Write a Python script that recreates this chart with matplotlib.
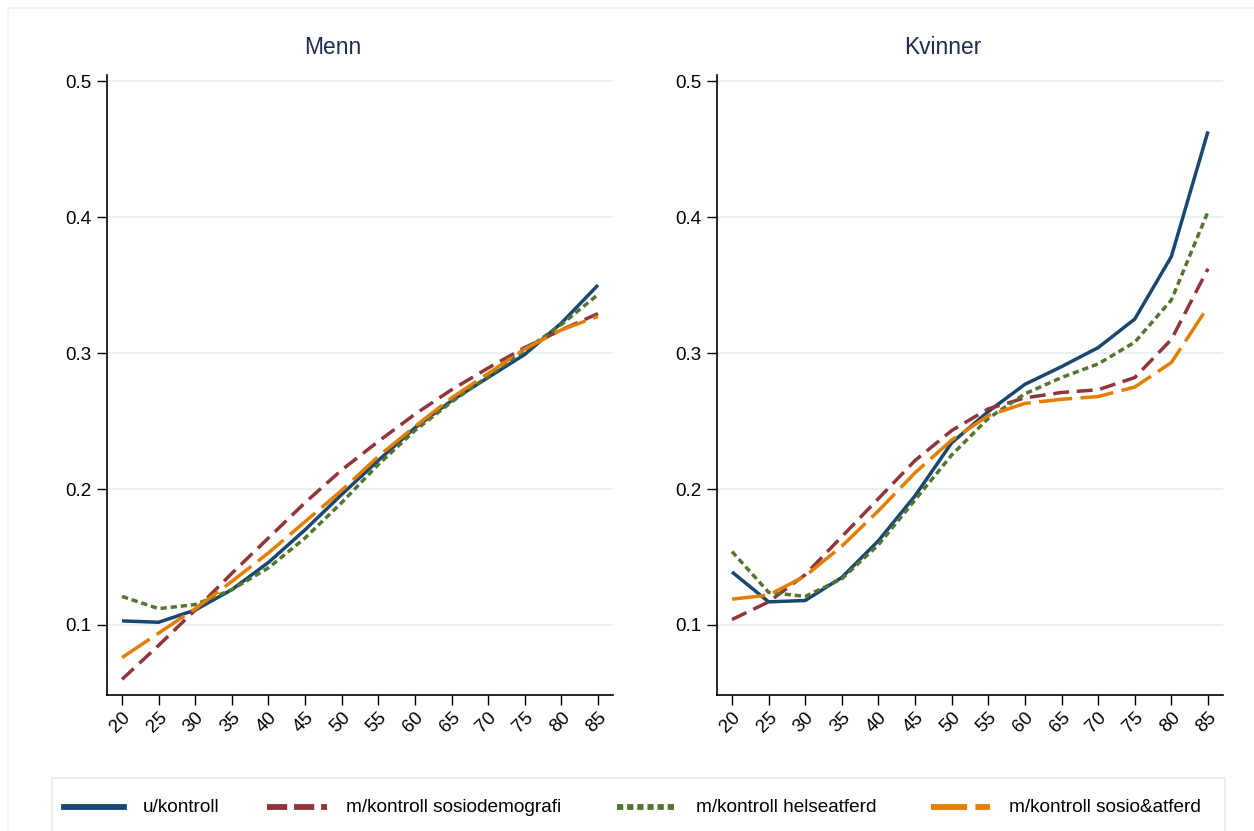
import matplotlib
matplotlib.use("Agg")
import matplotlib.pyplot as plt
from matplotlib.lines import Line2D
from matplotlib.patches import Rectangle

plt.rcParams['font.family'] = ['Liberation Sans', 'DejaVu Sans']
plt.rcParams['lines.scale_dashes'] = False

# alder (x-akse)
alder = [20, 25, 30, 35, 40, 45, 50, 55, 60, 65, 70, 75, 80, 85]

# Menn
menn_ukontroll = [0.103, 0.102, 0.111, 0.126, 0.146, 0.170, 0.196, 0.221, 0.245, 0.265, 0.282, 0.299, 0.322, 0.350]
menn_sosiodem = [0.060, 0.085, 0.111, 0.138, 0.164, 0.190, 0.214, 0.235, 0.255, 0.273, 0.289, 0.304, 0.317, 0.329]
menn_helse = [0.121, 0.112, 0.115, 0.126, 0.142, 0.164, 0.190, 0.218, 0.243, 0.264, 0.283, 0.302, 0.321, 0.343]
menn_sosioatf = [0.076, 0.094, 0.112, 0.132, 0.153, 0.176, 0.199, 0.224, 0.246, 0.267, 0.285, 0.303, 0.317, 0.327]

# Kvinner
kv_ukontroll = [0.139, 0.117, 0.118, 0.135, 0.162, 0.195, 0.234, 0.257, 0.277, 0.290, 0.304, 0.325, 0.371, 0.463]
kv_sosiodem = [0.104, 0.117, 0.137, 0.165, 0.193, 0.221, 0.243, 0.259, 0.267, 0.271, 0.273, 0.282, 0.310, 0.362]
kv_helse = [0.154, 0.124, 0.121, 0.134, 0.159, 0.192, 0.225, 0.252, 0.270, 0.282, 0.292, 0.308, 0.339, 0.404]
kv_sosioatf = [0.119, 0.122, 0.136, 0.158, 0.184, 0.212, 0.236, 0.254, 0.263, 0.266, 0.268, 0.275, 0.293, 0.334]

etiketter = ['u/kontroll', 'm/kontroll sosiodemografi', 'm/kontroll helseatferd', 'm/kontroll sosio&atferd']
yticks = [0.1, 0.2, 0.3, 0.4, 0.5]

farger = ['#1a476f', '#90353b', '#55752f', '#e37e00']
streker = [None, (0, (11.5, 5.5)), (0, (4.5, 2.8)), (0, (24, 6))]
streker_nokkel = [None, (0, (14.5, 5)), (0, (4.5, 2.8)), (0, (26, 6))]
lw = 2.5

W, H = 1254, 831
fig = plt.figure(figsize=(W / 100, H / 100), dpi=100)

# svak ramme rundt hele grafen
fig.add_artist(Rectangle((8 / W, -0.1), 1.2, (H - 8) / H + 0.1, transform=fig.transFigure,
                         facecolor='white', edgecolor='#eef2f4', lw=1.2, zorder=0))


def px(x0, y_top, w, h):
    return [x0 / W, 1 - (y_top + h) / H, w / W, h / H]


paneler = [
    ('Menn', px(107, 75, 506, 620), [menn_ukontroll, menn_sosiodem, menn_helse, menn_sosioatf], 333),
    ('Kvinner', px(717, 75, 506, 620), [kv_ukontroll, kv_sosiodem, kv_helse, kv_sosioatf], 943),
]

for tittel, pos, serier, tx in paneler:
    ax = fig.add_axes(pos)
    ax.set_facecolor('white')
    for y in yticks:
        ax.axhline(y, color='#eaf1f3', lw=1.5, zorder=1)
    for verdier, farge, strek in zip(serier, farger, streker):
        if strek is None:
            ax.plot(alder, verdier, color=farge, lw=lw, zorder=3, solid_capstyle='butt')
        else:
            ax.plot(alder, verdier, color=farge, lw=lw, linestyle=strek, zorder=3,
                    dash_capstyle='butt')
    ax.set_xlim(17.95, 87.05)
    ax.set_ylim(0.0485, 0.5045)
    ax.set_xticks(alder)
    ax.set_xticklabels([str(a) for a in alder], rotation=45, ha='right', va='top',
                       rotation_mode='anchor', fontsize=13.5)
    ax.set_yticks(yticks)
    ax.set_yticklabels(['0.1', '0.2', '0.3', '0.4', '0.5'], fontsize=13.5)
    ax.tick_params(axis='both', direction='out', length=7, width=1, color='black', pad=4)
    ax.tick_params(axis='x', pad=3)
    for s in ['top', 'right']:
        ax.spines[s].set_visible(False)
    for s in ['left', 'bottom']:
        ax.spines[s].set_linewidth(1.2)
    fig.text(tx / W, 1 - 47 / H, tittel, ha='center', va='center', fontsize=16.4, color='#1c2c52')

# forklaring
fig.add_artist(Rectangle((52 / W, -0.1), (1225 - 52) / W, (H - 778) / H + 0.1,
                         transform=fig.transFigure, facecolor='white', edgecolor='#e6edf0',
                         lw=1.2, zorder=1))
ly = 1 - 807 / H
nokler = [(64, 124, 143), (267, 327, 346), (617, 675, 696), (931, 990, 1009)]
for (x0, x1, xt), farge, strek, tekst in zip(nokler, farger, streker_nokkel, etiketter):
    ln = Line2D([x0 / W, x1 / W], [ly, ly], transform=fig.transFigure, color=farge, lw=4.2,
                zorder=2)
    if strek is not None:
        ln.set_linestyle(strek)
        ln.set_dash_capstyle('butt')
    fig.add_artist(ln)
    fig.text(xt / W, ly, tekst, ha='left', va='center', fontsize=13.7, color='black', zorder=2)

fig.savefig('out.png', dpi=100)
